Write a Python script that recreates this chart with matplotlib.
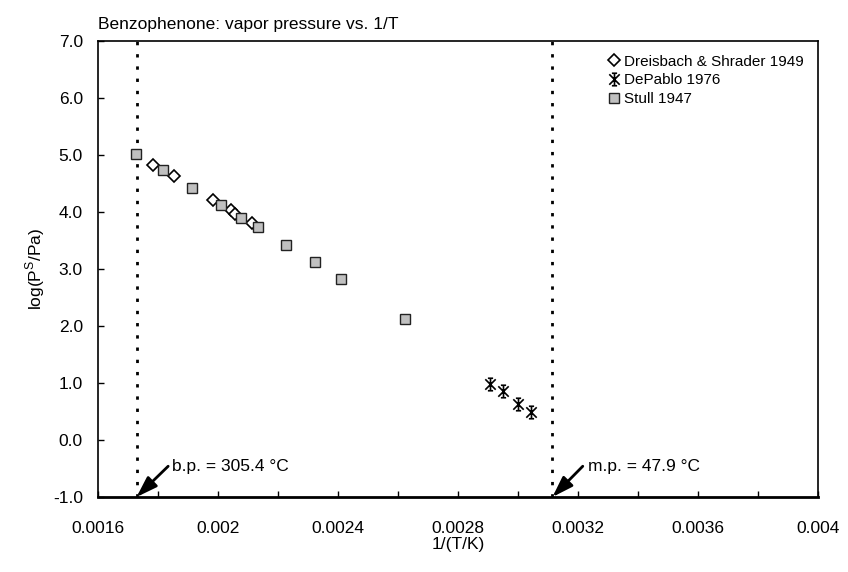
import matplotlib
matplotlib.use("Agg")
import matplotlib.pyplot as plt
from matplotlib.path import Path
from matplotlib.ticker import MultipleLocator, FormatStrFormatter, FuncFormatter

plt.rcParams['font.family'] = ['Liberation Sans', 'DejaVu Sans']

# Stull 1947
stull_x = [0.001728, 0.001818, 0.001912, 0.002010, 0.002077, 0.002133,
           0.002227, 0.002322, 0.002411, 0.002622]
stull_y = [5.01, 4.73, 4.43, 4.13, 3.90, 3.73, 3.43, 3.13, 2.82, 2.12]

# Dreisbach & Shrader 1949
dreis_x = [0.001783, 0.001854, 0.001983, 0.002043, 0.002056, 0.002113]
dreis_y = [4.82, 4.63, 4.21, 4.03, 3.97, 3.81]

# DePablo 1976
depablo_x = [0.002907, 0.002949, 0.003001, 0.003043]
depablo_y = [0.98, 0.86, 0.63, 0.50]

# boiling / melting point lines
bp_x = 0.0017284
mp_x = 0.0031148

# star marker like the spreadsheet one
star = Path([(-1, -1), (1, 1), (-1, 1), (1, -1), (0, -1.2), (0, 1.2),
             (-0.5, 1.2), (0.5, 1.2), (-0.5, -1.2), (0.5, -1.2)],
            [Path.MOVETO, Path.LINETO] * 5)

fig = plt.figure(figsize=(8.48, 5.72), dpi=100)
ax = fig.add_axes([0.1156, 0.1311, 0.849, 0.7972])

ax.axvline(bp_x, color='black', lw=2, linestyle=(0, (1.2, 3.2)), dash_capstyle='butt')
ax.axvline(mp_x, color='black', lw=2, linestyle=(0, (1.2, 3.2)), dash_capstyle='butt')

ax.plot(dreis_x, dreis_y, linestyle='none', marker='D', ms=6, mfc='white',
        mec='black', mew=1.2, label='Dreisbach & Shrader 1949', zorder=3)
ax.plot(depablo_x, depablo_y, linestyle='none', marker=star, ms=9, mfc='none',
        mec='black', mew=1.2, label='DePablo 1976', zorder=3)
ax.plot(stull_x, stull_y, linestyle='none', marker='s', ms=7.5, mfc='#c0c0c0',
        mec='#222222', mew=1.0, label='Stull 1947', zorder=4)

# arrows pointing at the b.p. / m.p. on the x axis
arrow = dict(arrowstyle='-|>,head_length=0.9,head_width=0.3', color='black',
             lw=2, mutation_scale=14, shrinkA=0, shrinkB=0)
ax.annotate('', xy=(bp_x, -1.0), xytext=(0.0018338, -0.46), arrowprops=arrow)
ax.annotate('', xy=(mp_x, -1.0), xytext=(0.0032159, -0.46), arrowprops=arrow)
ax.text(0.001848, -0.47, 'b.p. = 305.4 °C', fontsize=12.5, va='center', ha='left')
ax.text(0.0032326, -0.47, 'm.p. = 47.9 °C', fontsize=12.5, va='center', ha='left')

ax.set_xlim(0.0016, 0.004)
ax.set_ylim(-1.0, 7.0)
ax.xaxis.set_major_locator(MultipleLocator(0.0004))
ax.xaxis.set_minor_locator(MultipleLocator(0.0002))
ax.xaxis.set_major_formatter(FuncFormatter(lambda v, p: '%g' % v))
ax.yaxis.set_major_locator(MultipleLocator(1.0))
ax.yaxis.set_major_formatter(FormatStrFormatter('%.1f'))
ax.tick_params(axis='both', which='both', direction='in', length=4, width=1,
               labelsize=12.5)
ax.tick_params(axis='x', which='major', pad=17)
ax.tick_params(axis='y', which='major', pad=11)
ax.yaxis.set_ticks_position('left')
ax.xaxis.set_ticks_position('bottom')
for s in ax.spines.values():
    s.set_linewidth(1.2)
ax.spines['bottom'].set_linewidth(2)

ax.set_xlabel('1/(T/K)', fontsize=12.5, labelpad=1)
ax.set_ylabel('log(P$^{\\mathregular{S}}$/Pa)', fontsize=12.5, labelpad=4)
ax.set_title('Benzophenone: vapor pressure vs. 1/T', loc='left', fontsize=12.5, pad=9)

ax.legend(loc='upper right', frameon=False, fontsize=11, handlelength=0.8,
          handletextpad=0.3, labelspacing=0.3, borderaxespad=0.6,
          borderpad=0.3)

fig.savefig('out.png', dpi=100)
